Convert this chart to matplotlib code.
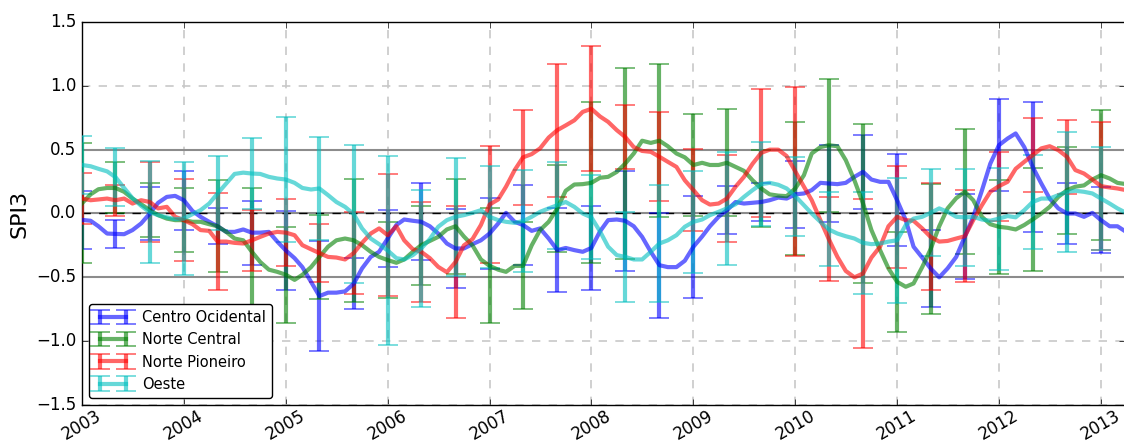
import numpy as np
import pandas as pd
import matplotlib
matplotlib.use("Agg")
import matplotlib.pyplot as plt
import matplotlib.dates as mdates

plt.style.use('classic')

# monthly SPI3 means, Jan 2003 .. Apr 2013
months = pd.date_range('2003-01-01', periods=124, freq='MS')

centro_ocidental = [
    -0.05, -0.057, -0.10, -0.157, -0.16, -0.162, -0.13, -0.078, 0.0, 0.084, 0.13, 0.138,
    0.104, 0.02, -0.026, -0.065, -0.10, -0.144, -0.144, -0.125, -0.15, -0.15, -0.144, -0.22,
    -0.29, -0.35, -0.42, -0.535, -0.647, -0.62, -0.62, -0.61, -0.55, -0.43, -0.34, -0.30,
    -0.196, -0.09, -0.047, -0.057, -0.065, -0.10, -0.157, -0.235, -0.274, -0.274, -0.24, -0.21,
    -0.157, -0.078, 0.005, -0.065, -0.09, -0.136, -0.117, -0.196, -0.287, -0.27, -0.287, -0.30,
    -0.27, -0.14, -0.052, -0.047, -0.057, -0.10, -0.183, -0.30, -0.405, -0.42, -0.42, -0.37,
    -0.26, -0.18, -0.10, -0.026, 0.026, 0.09, 0.078, 0.084, 0.09, 0.104, 0.125, 0.117,
    0.15, 0.157, 0.183, 0.24, 0.235, 0.23, 0.24, 0.287, 0.326, 0.266, 0.248, 0.248,
    0.104, -0.052, -0.26, -0.345, -0.43, -0.50, -0.43, -0.34, -0.18, -0.026, 0.18, 0.39,
    0.535, 0.587, 0.627, 0.52, 0.365, 0.235, 0.117, 0.04, 0.0, 0.0, -0.026, 0.005,
    -0.052, -0.10, -0.10, -0.144]

norte_central = [
    0.08, 0.15, 0.19, 0.20, 0.20, 0.17, 0.117, 0.073, 0.026, -0.013, -0.04, -0.052,
    -0.052, -0.065, -0.065, -0.084, -0.10, -0.144, -0.196, -0.21, -0.30, -0.38, -0.44, -0.457,
    -0.48, -0.52, -0.48, -0.42, -0.34, -0.26, -0.21, -0.196, -0.21, -0.248, -0.30, -0.34,
    -0.365, -0.386, -0.36, -0.30, -0.248, -0.215, -0.183, -0.125, -0.10, -0.18, -0.25, -0.36,
    -0.41, -0.44, -0.457, -0.41, -0.41, -0.25, -0.13, -0.065, 0.04, 0.178, 0.227, 0.23,
    0.24, 0.28, 0.287, 0.326, 0.39, 0.47, 0.57, 0.553, 0.57, 0.527, 0.47, 0.44,
    0.38, 0.397, 0.38, 0.38, 0.397, 0.365, 0.334, 0.26, 0.196, 0.15, 0.14, 0.136,
    0.196, 0.30, 0.47, 0.52, 0.535, 0.527, 0.418, 0.26, 0.078, -0.13, -0.287, -0.43,
    -0.535, -0.574, -0.548, -0.42, -0.28, -0.10, 0.04, 0.12, 0.17, 0.104, -0.026, -0.084,
    -0.104, -0.112, -0.125, -0.09, -0.047, 0.0, 0.052, 0.13, 0.183, 0.21, 0.22, 0.266,
    0.30, 0.274, 0.24, 0.23]

norte_pioneiro = [
    0.117, 0.104, 0.11, 0.117, 0.104, 0.117, 0.078, 0.104, 0.09, 0.04, 0.052, -0.026,
    -0.052, -0.084, -0.13, -0.136, -0.22, -0.22, -0.23, -0.235, -0.21, -0.183, -0.157, -0.144,
    -0.15, -0.17, -0.248, -0.28, -0.31, -0.34, -0.345, -0.36, -0.31, -0.23, -0.157, -0.117,
    -0.17, -0.10, -0.21, -0.28, -0.30, -0.35, -0.418, -0.46, -0.38, -0.25, -0.20, -0.09,
    0.07, 0.11, 0.21, 0.34, 0.44, 0.465, 0.51, 0.595, 0.653, 0.69, 0.73, 0.796,
    0.82, 0.76, 0.718, 0.653, 0.60, 0.52, 0.49, 0.483, 0.444, 0.405, 0.365, 0.26,
    0.183, 0.104, 0.07, 0.078, 0.117, 0.21, 0.287, 0.39, 0.475, 0.50, 0.50, 0.45,
    0.33, 0.21, 0.104, -0.052, -0.20, -0.34, -0.45, -0.50, -0.47, -0.345, -0.26, -0.10,
    -0.026, -0.052, -0.057, -0.117, -0.183, -0.22, -0.215, -0.196, -0.178, -0.052, 0.065, 0.17,
    0.214, 0.248, 0.35, 0.405, 0.457, 0.51, 0.527, 0.496, 0.444, 0.34, 0.313, 0.266,
    0.214, 0.204, 0.196, 0.183]

oeste = [
    0.38, 0.37, 0.35, 0.33, 0.285, 0.20, 0.12, 0.06, 0.01, -0.013, -0.03, -0.044,
    -0.04, -0.005, 0.026, 0.078, 0.157, 0.235, 0.31, 0.32, 0.313, 0.31, 0.287, 0.274,
    0.266, 0.24, 0.20, 0.188, 0.196, 0.144, 0.09, 0.052, -0.005, -0.117, -0.196, -0.24,
    -0.29, -0.35, -0.36, -0.326, -0.274, -0.20, -0.104, -0.052, -0.026, -0.013, 0.005, 0.026,
    -0.026, -0.052, -0.065, -0.073, -0.06, -0.026, 0.013, 0.04, 0.065, 0.09, 0.052, 0.0,
    -0.03, -0.14, -0.26, -0.326, -0.34, -0.36, -0.36, -0.30, -0.235, -0.21, -0.17, -0.104,
    -0.065, -0.047, -0.013, 0.013, 0.04, 0.073, 0.13, 0.183, 0.23, 0.24, 0.225, 0.196,
    0.136, 0.065, 0.0, -0.065, -0.125, -0.157, -0.178, -0.196, -0.23, -0.24, -0.235, -0.22,
    -0.21, -0.09, -0.04, -0.026, 0.005, 0.04, 0.013, -0.026, -0.03, -0.026, -0.047, -0.057,
    -0.04, -0.02, -0.03, 0.026, 0.09, 0.117, 0.117, 0.144, 0.17, 0.178, 0.17, 0.157,
    0.117, 0.078, 0.04, 0.005]

# spread (std) shown every 4 months: Jan/May/Sep of each year
err_centro = [0.23, 0.11, 0.21, 0.23, 0.14, 0.25, 0.31, 0.43, 0.20, 0.22, 0.30, 0.31, 0.275,
              0.31, 0.33, 0.33, 0.39, 0.41, 0.40, 0.19, 0.15, 0.26, 0.30, 0.29, 0.36, 0.30,
              0.33, 0.36, 0.51, 0.24, 0.26]
err_central = [0.47, 0.20, 0.21, 0.25, 0.36, 0.50, 0.375, 0.33, 0.48, 0.30, 0.31, 0.37, 0.45,
               0.34, 0.34, 0.63, 0.75, 0.60, 0.40, 0.42, 0.30, 0.52, 0.52, 0.62, 0.39, 0.51,
               0.49, 0.37, 0.40, 0.34, 0.51]
err_pioneiro = [0.20, 0.12, 0.31, 0.32, 0.38, 0.24, 0.26, 0.23, 0.32, 0.48, 0.39, 0.44, 0.46,
                0.37, 0.52, 0.49, 0.25, 0.35, 0.32, 0.34, 0.50, 0.66, 0.33, 0.585, 0.40, 0.42,
                0.36, 0.27, 0.29, 0.29, 0.50]
err_oeste = [0.23, 0.23, 0.40, 0.44, 0.29, 0.28, 0.49, 0.40, 0.54, 0.74, 0.46, 0.46, 0.40,
             0.40, 0.34, 0.33, 0.35, 0.46, 0.40, 0.44, 0.33, 0.31, 0.29, 0.40, 0.49, 0.34,
             0.38, 0.40, 0.37, 0.47, 0.40]

regions = ['Centro Ocidental', 'Norte Central', 'Norte Pioneiro', 'Oeste']
series = [centro_ocidental, norte_central, norte_pioneiro, oeste]
errors = [err_centro, err_central, err_pioneiro, err_oeste]
colors = ['b', 'g', 'r', 'c']
step = 4

fig = plt.figure(figsize=(11.24, 4.42), facecolor='white')
ax = fig.add_axes([82/1124., 37/442., 1043/1124., 383/442.])

ax.grid(True, linestyle='--', color='#c8c8c8', linewidth=1.2)
ax.set_axisbelow(True)
for yl in (0.5, -0.5, 0.0):
    ax.axhline(yl, color='0.55', linewidth=1.5, zorder=1)
ax.axhline(0.0, color='k', linestyle='--', linewidth=1, zorder=1)

for name, vals, err, col in zip(regions, series, errors, colors):
    yerr = np.zeros(len(vals))
    yerr[::step] = err
    ax.errorbar(months, vals, yerr=yerr, errorevery=step, color=col, alpha=0.6,
                linewidth=3, elinewidth=3, capsize=7, capthick=1.2, label=name, zorder=3)

ax.set_ylim(-1.5, 1.5)
ax.set_yticks(np.arange(-1.5, 1.51, 0.5))
ax.set_xlim(pd.Timestamp('2003-01-01'), pd.Timestamp('2013-03-28'))
ax.xaxis.set_major_locator(mdates.YearLocator())
ax.xaxis.set_major_formatter(mdates.DateFormatter('%Y'))
for lab in ax.get_xticklabels():
    lab.set_rotation(30)
    lab.set_ha('center')
ax.tick_params(labelsize=12)
ax.tick_params(axis='x', pad=1)
ax.set_ylabel('SPI3', fontsize=16)

leg = ax.legend(loc='lower left', fontsize=10.5, numpoints=2, fancybox=True,
                handlelength=2.4)

fig.savefig('out.png', dpi=100, facecolor='white')
